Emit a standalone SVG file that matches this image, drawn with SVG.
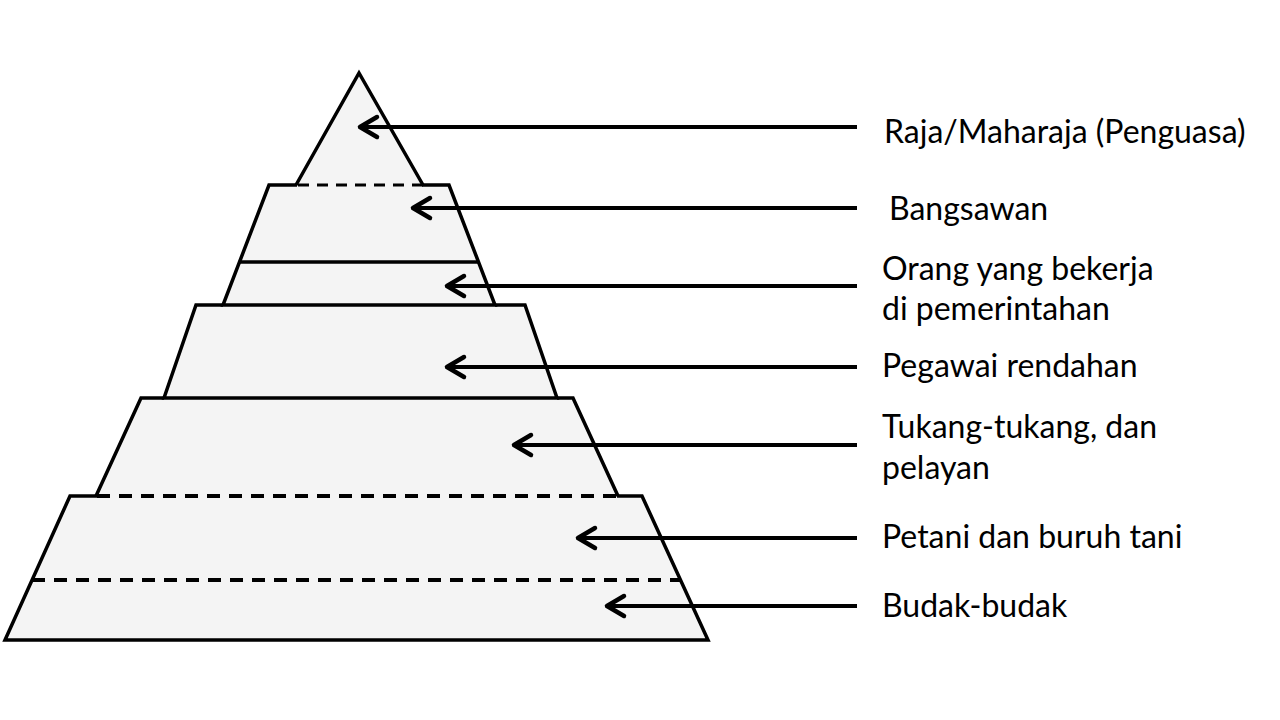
<svg xmlns="http://www.w3.org/2000/svg" width="1280" height="720" viewBox="0 0 1280 720">
<defs>
<style>
.fill{fill:#f4f4f4;stroke:none}
.edge{fill:none;stroke:#000;stroke-width:3.5;stroke-linejoin:miter}
.dash{fill:none;stroke:#000;stroke-width:4;stroke-dasharray:13 9}
.dash2{fill:none;stroke:#000;stroke-width:3;stroke-dasharray:11 8}
.arr{fill:none;stroke:#000;stroke-width:4}
.head{fill:none;stroke:#000;stroke-width:4.5;stroke-linecap:round;stroke-linejoin:round}
.lbl{font-family:Lato,"Liberation Sans",sans-serif;font-size:32px;fill:#000}
</style>
</defs>
<rect width="1280" height="720" fill="#fff"/>
<g id="pyramid">
<g id="tier5">
<polygon class="fill" points="70,496 642,496 708,640 5,640"/>
<path class="edge" d="M97,496 L70,496 L5,640 L708,640 L642,496 L617,496"/>
<line class="dash" x1="32" y1="580" x2="680" y2="580"/>
</g>
<g id="tier4">
<polygon class="fill" points="141,398 573,398 618,496 96,496"/>
<path class="edge" d="M164,398 L141,398 L96,496 M618,496 L573,398 L557,398"/>
<line class="dash" x1="97" y1="496" x2="617" y2="496"/>
</g>
<g id="tier3">
<polygon class="fill" points="196,305 525,305 557,398 164,398"/>
<path class="edge" d="M223,305 L196,305 L164,398 L557,398 L525,305 L495,305"/>
</g>
<g id="tier2">
<polygon class="fill" points="269,185 449,185 495,305 223,305"/>
<path class="edge" d="M297,185 L269,185 L223,305 L495,305 L449,185 L422,185"/>
<line class="edge" x1="240" y1="262" x2="478" y2="262"/>
</g>
<g id="tier1">
<polygon class="fill" points="359,73 296,185 423,185"/>
<path class="edge" d="M296,185 L359,73 L423,185"/>
<line class="dash2" x1="298" y1="185" x2="423" y2="185"/>
</g>
</g>
<g id="connectors">
<line class="arr" x1="857" y1="127" x2="361" y2="127"/>
<path class="head" d="M377,117 L360,127 L377,137"/>
<line class="arr" x1="857" y1="208" x2="415" y2="208"/>
<path class="head" d="M430,198 L413,208 L430,218"/>
<line class="arr" x1="857" y1="286" x2="449" y2="286"/>
<path class="head" d="M464,276 L447,286 L464,296"/>
<line class="arr" x1="857" y1="367" x2="449" y2="367"/>
<path class="head" d="M464,357 L447,367 L464,377"/>
<line class="arr" x1="857" y1="445" x2="516" y2="445"/>
<path class="head" d="M531,435 L514,445 L531,455"/>
<line class="arr" x1="857" y1="538" x2="580" y2="538"/>
<path class="head" d="M595,528 L578,538 L595,548"/>
<line class="arr" x1="857" y1="606" x2="609" y2="606"/>
<path class="head" d="M624,596 L607,606 L624,616"/>
</g>
<g id="labels">
<text class="lbl" x="884" y="143">Raja/Maharaja (Penguasa)</text>
<text class="lbl" x="889" y="220">Bangsawan</text>
<text class="lbl" x="882" y="280">Orang yang bekerja</text>
<text class="lbl" x="882" y="320">di pemerintahan</text>
<text class="lbl" x="882" y="377">Pegawai rendahan</text>
<text class="lbl" x="882" y="438">Tukang-tukang, dan</text>
<text class="lbl" x="882" y="479">pelayan</text>
<text class="lbl" x="882" y="548">Petani dan buruh tani</text>
<text class="lbl" x="882" y="617">Budak-budak</text>
</g>
</svg>
